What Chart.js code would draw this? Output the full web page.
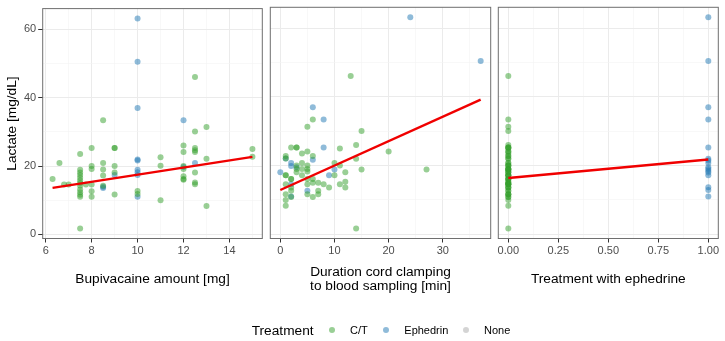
<!DOCTYPE html>
<html><head><meta charset="utf-8">
<script src="https://cdn.jsdelivr.net/npm/chart.js@4.4.1/dist/chart.umd.min.js"></script>
<style>
html,body{margin:0;padding:0;background:#fff;}
#wrap{position:relative;width:725px;height:341px;overflow:hidden;font-family:"Liberation Sans",Arial,sans-serif;}
canvas{position:absolute;left:0;top:0;}
.leg{position:absolute;white-space:nowrap;line-height:1;color:#000;}
.dot{position:absolute;width:6px;height:6px;border-radius:50%;}
</style></head><body>
<div id="wrap">
<canvas id="c1" width="725" height="341"></canvas>
<canvas id="c2" width="725" height="341"></canvas>
<canvas id="c3" width="725" height="341"></canvas>
<div class="leg" style="left:251.7px;top:323.5px;font-size:13.7px;">Treatment</div>
<div class="dot" style="left:328.7px;top:327.3px;background:rgba(51,160,44,0.5);"></div>
<div class="leg" style="left:350px;top:325px;font-size:11px;">C/T</div>
<div class="dot" style="left:383px;top:327.3px;background:rgba(31,120,180,0.5);"></div>
<div class="leg" style="left:404.3px;top:325px;font-size:11px;">Ephedrin</div>
<div class="dot" style="left:463px;top:327.3px;background:rgba(170,170,170,0.5);"></div>
<div class="leg" style="left:484px;top:325px;font-size:11px;">None</div>
</div>
<script>
// ---------- data ----------
const lactateTicks = [0, 20, 40, 60];
const lactateMinor = [10, 30, 50];
const bupiTicks = [6, 8, 10, 12, 14];
const bupiMinor = [7, 9, 11, 13, 15];
const durTicks = [0, 10, 20, 30];
const durMinor = [5, 15, 25, 35];
const ephTicks = [0, 0.25, 0.5, 0.75, 1];
const ephTickLabels = ['0.00', '0.25', '0.50', '0.75', '1.00'];
const ephMinor = [0.125, 0.375, 0.625, 0.875];

const panelTitles = ['Bupivacaine amount [mg]', ['Duration cord clamping', 'to blood sampling [min]'], 'Treatment with ephedrine'];
const yTitle = 'Lactate [mg/dL]';

// Bupivacaine amount [mg] vs lactate
const bupiCT = [[6.3,16.2],[6.6,20.9],[6.8,14.6],[7.0,14.6],[7.5,23.5],[7.5,18.9],[7.5,18.1],[7.5,17.4],[7.5,16.6],[7.5,15.8],[7.5,15.0],[7.5,14.2],[7.5,13.1],[7.5,12.3],[7.5,11.6],[7.5,11.0],[7.5,1.7],[7.75,14.6],[8,25.3],[8,20.0],[8,19.1],[8,14.6],[8,12.6],[8,11.0],[8.5,33.4],[8.5,20.9],[8.5,19.0],[8.5,17.2],[8.5,14.2],[9,25.3],[9,25.3],[9,20.0],[9,18.1],[9,11.7],[10,12.7],[10,11.8],[11,22.6],[11,20.1],[11,10.0],[12,26.0],[12,24.1],[12,20.0],[12,19.1],[12,17.0],[12,16.2],[12,16.0],[12.5,46.1],[12.5,30.1],[12.5,25.3],[12.5,24.6],[12.5,24.1],[12.5,18.1],[12.5,15.2],[12.5,14.7],[13,31.4],[13,22.1],[13,8.3],[15,25.0],[15,22.7]];
const bupiEph = [[8.5,13.9],[8.5,13.6],[9,17.4],[10,63.2],[10,50.5],[10,37.0],[10,21.9],[10,21.6],[10,18.9],[10,18.2],[10,17.4],[10,11.0],[12,33.4],[12,19.7],[12.5,20.9]];

// Duration cord clamping to blood sampling [min] vs lactate
const durCT = [[13,46.1],[6,33.4],[5,31.3],[15,30.1],[14,26],[2,25.3],[3,25.3],[3,25.3],[11,25.0],[4,23.5],[5,24.1],[6,22.8],[1,22.8],[1,22.1],[14,22.0],[20,24.1],[3,20],[4,20.8],[5,20],[10,20.8],[11,20],[4,19],[3,19],[5,19],[5,18.3],[1,17.2],[2,16.1],[3,18.1],[4,17.2],[5,16.1],[6,16.1],[10,17.2],[12,18.1],[15,18.9],[27,18.9],[1,14.6],[2,13.6],[5,14.6],[6,15.0],[7,15.0],[8,14.6],[9,13.6],[11,14.6],[12,15.3],[12,13.6],[5,11.7],[6,10.9],[7,12.7],[7,11.7],[1,11.7],[2,10.9],[2,12.7],[1,10],[1,8.3],[14,1.7],[2,16.1],[1,17.2]];
const durEph = [[24,63.2],[37,50.5],[6,37],[8,33.4],[8,25.3],[6,21.7],[1,22.1],[2,20.8],[2,19.9],[0,18.1],[9,17.2],[10,18.9],[5,12.7],[2,14.6],[2,11.0],[3,19.5]];

// Treatment with ephedrine (0/1) vs lactate
const ephCTLactate = [46.1,33.4,31.3,30.1,26,25.3,25.3,25.3,25.0,23.5,24.1,22.8,22.8,22.1,22.0,24.1,20,20.8,20,20.8,20,19,19,19,18.3,17.2,16.1,18.1,17.2,16.1,16.1,17.2,18.1,18.9,18.9,14.6,13.6,14.6,15.0,15.0,14.6,13.6,14.6,15.3,13.6,11.7,10.9,12.7,11.7,11.7,10.9,12.7,10,8.3,1.7,16.1,17.2];
const ephEphLactate = [63.2,50.5,37,33.4,25.3,22.0,21.5,20.8,19.5,19.0,18.5,18.0,17.2,13.7,12.9,11.0];

// fitted regression lines
const fitIntercept = [7.01, 12.9, 16.4];
const fitSlope = [1.046, 0.711, 5.4];

// ---------- styling ----------
const GREEN = 'rgba(51,160,44,0.5)';
const BLUE = 'rgba(31,120,180,0.5)';
const FONT = '"Liberation Sans", Arial, sans-serif';
const TOP = 7.3, BOTTOM = 238.5, XAXIS_H = 100;
const panels = [
  {left: 42.7, right: 262.3, min: 5.87, max: 15.43, major: bupiTicks, minor: bupiMinor, labels: bupiTicks.map(String), ct: bupiCT, eph: bupiEph, titlePad: 51.9},
  {left: 270.3, right: 490.7, min: -1.85, max: 38.85, major: durTicks, minor: durMinor, labels: durTicks.map(String), ct: durCT, eph: durEph, titlePad: 44.5},
  {left: 498.3, right: 718.3, min: -0.05, max: 1.05, major: ephTicks, minor: ephMinor, labels: ephTickLabels, ct: ephCTLactate.map(v => [0, v]), eph: ephEphLactate.map(v => [1, v]), titlePad: 51.9}
];

const borderPlugin = {
  id: 'panelBorder',
  afterDatasetsDraw(chart) {
    const a = chart.chartArea, c = chart.ctx;
    c.save();
    c.strokeStyle = '#6f6f6f';
    c.lineWidth = 1;
    c.strokeRect(a.left, a.top, a.right - a.left, a.bottom - a.top);
    c.restore();
  }
};

function mkTicks(major, minor) {
  return major.concat(minor).sort((a, b) => a - b).map(v => ({value: v}));
}
function isMajor(list, v) { return list.some(m => Math.abs(m - v) < 1e-9); }

panels.forEach((p, i) => {
  const xs = p.ct.concat(p.eph).map(d => d[0]);
  const x0 = Math.min(...xs), x1 = Math.max(...xs);
  const first = i === 0;
  new Chart(document.getElementById('c' + (i + 1)), {
    type: 'scatter',
    data: {
      datasets: [
        {type: 'line', data: [{x: x0, y: fitIntercept[i] + fitSlope[i] * x0}, {x: x1, y: fitIntercept[i] + fitSlope[i] * x1}],
         borderColor: '#f00000', borderWidth: 2.4, pointRadius: 0, tension: 0, order: -1, fill: false},
        {data: p.ct.map(d => ({x: d[0], y: d[1]})), backgroundColor: GREEN, borderWidth: 0, pointRadius: 3},
        {data: p.eph.map(d => ({x: d[0], y: d[1]})), backgroundColor: BLUE, borderWidth: 0, pointRadius: 3}
      ]
    },
    options: {
      responsive: false, animation: false, devicePixelRatio: 1, events: [],
      layout: {padding: {left: first ? 0 : p.left, right: 725 - p.right, top: TOP, bottom: 341 - BOTTOM - XAXIS_H}},
      plugins: {legend: {display: false}, tooltip: {enabled: false}},
      scales: {
        x: {
          type: 'linear', min: p.min, max: p.max,
          afterBuildTicks: s => { s.ticks = mkTicks(p.major, p.minor); },
          afterFit: s => { s.height = XAXIS_H; },
          border: {display: false},
          grid: {
            color: c => isMajor(p.major, c.tick.value) ? '#EBEBEB' : '#F4F4F4',
            lineWidth: c => isMajor(p.major, c.tick.value) ? 1 : 0.6,
            tickColor: c => isMajor(p.major, c.tick.value) ? '#333333' : 'rgba(0,0,0,0)',
            tickLength: 4, tickWidth: 1
          },
          ticks: {
            autoSkip: false, maxRotation: 0, padding: 1.5, color: '#4D4D4D',
            font: {family: FONT, size: 11},
            callback: (v) => { const k = p.major.findIndex(m => Math.abs(m - v) < 1e-9); return k >= 0 ? p.labels[k] : ''; }
          },
          title: {display: true, text: panelTitles[i], color: '#000', font: {family: FONT, size: 13.7, lineHeight: 1.07}, padding: {top: 0, bottom: p.titlePad}}
        },
        y: {
          type: 'linear', min: -1.22, max: 66.1,
          afterBuildTicks: s => { s.ticks = mkTicks(lactateTicks, lactateMinor); },
          afterFit: s => { s.width = first ? 42.7 : 0; },
          border: {display: false},
          grid: {
            color: c => isMajor(lactateTicks, c.tick.value) ? '#EBEBEB' : '#F4F4F4',
            lineWidth: c => isMajor(lactateTicks, c.tick.value) ? 1 : 0.6,
            tickColor: c => isMajor(lactateTicks, c.tick.value) ? '#333333' : 'rgba(0,0,0,0)',
            drawTicks: first, tickLength: 4.5, tickWidth: 1
          },
          ticks: {
            display: first, autoSkip: false, padding: 2, color: '#4D4D4D',
            font: {family: FONT, size: 11},
            callback: (v) => isMajor(lactateTicks, v) ? String(v) : ''
          },
          title: {display: first, text: yTitle, color: '#000', font: {family: FONT, size: 13.7, lineHeight: 1.2}, padding: {top: 3.8, bottom: 0}}
        }
      }
    },
    plugins: [borderPlugin]
  });
});
</script>
</body></html>
